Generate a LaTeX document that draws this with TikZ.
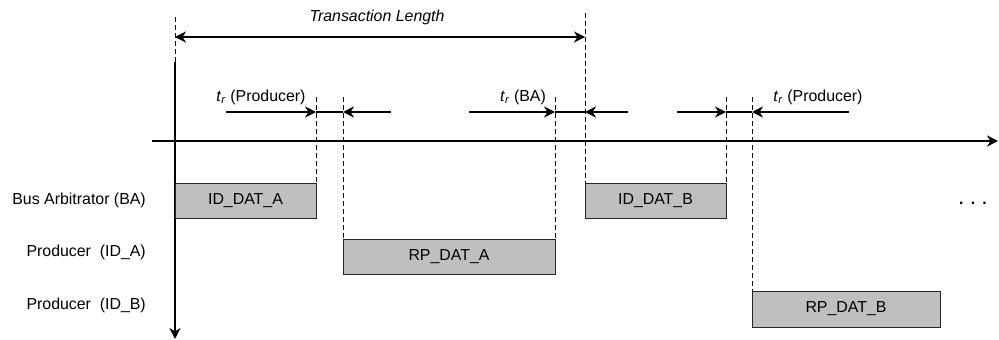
\documentclass[tikz,border=0pt]{standalone}
\usepackage{fontspec}
\setmainfont{Liberation Sans}
\usetikzlibrary{arrows.meta, positioning}

\begin{document}
\begin{tikzpicture}[
  x=1pt, y=-1pt,
  font=\fontsize{15.9}{19}\selectfont,
  >={Stealth[length=11pt, width=11pt, inset=3.5pt]},
  slot/.style={
    draw=black!85, line width=1pt, fill=black!25, inner sep=0pt,
    outer sep=0pt, minimum height=35pt, anchor=north west
  },
  axis/.style={->, line width=2pt},
  guide/.style={line width=0.9pt, dash pattern=on 5pt off 3pt},
  tr/.style={line width=1.6pt},
  span/.style={<->, line width=1.2pt},
  rowlab/.style={anchor=east, inner sep=0pt},
  lab/.style={inner sep=0pt}
]
  \useasboundingbox (0,0) rectangle (999,340);

  % axes
  \coordinate (tstart) at (152,141);
  \coordinate (tend) at (998,141);
  \coordinate (vtop) at (175,62);
  \coordinate (vbot) at (175,339);
  \draw[axis] (tstart) -- (tend);
  \draw[axis] (vtop) -- (vbot);

  % rows
  \node[rowlab] (ba) at (146,200) {Bus Arbitrator (BA)};
  \node[rowlab] (pa) at (146,252) {Producer\ \ (ID\_A)};
  \node[rowlab] (pb) at (146,305) {Producer\ \ (ID\_B)};

  % frames on the bus
  \node[slot, minimum width=141pt] (idA) at (175,183) {ID\_DAT\_A};
  \node[slot, minimum width=212pt] (rpA) at (343,239) {RP\_DAT\_A};
  \node[slot, minimum width=141pt] (idB) at (585,183) {ID\_DAT\_B};
  \node[slot, minimum width=188pt, minimum height=36pt] (rpB) at (752,291) {RP\_DAT\_B};
  \node[lab, anchor=base] (more) at (973,204) {\textbf{.}\hspace{7.2pt}\textbf{.}\hspace{7.2pt}\textbf{.}};

  % guide lines
  \coordinate (g0) at (175,17);
  \coordinate (g1) at (316,97);
  \coordinate (g2) at (343,97);
  \coordinate (g3) at (555,97);
  \coordinate (g4) at (585,13);
  \coordinate (g5) at (726,97);
  \coordinate (g6) at (752,97);
  \draw[guide] (g0) -- (vtop);
  \draw[guide] (g1) -- (idA.north east);
  \draw[guide] (g2) -- (rpA.north west);
  \draw[guide] (g3) -- (rpA.north east);
  \draw[guide] (g4) -- (idB.north west);
  \draw[guide] (g5) -- (idB.north east);
  \draw[guide] (g6) -- (rpB.north west);

  % transaction length
  \coordinate (tl0) at (175,37);
  \coordinate (tl1) at (585,37);
  \draw[span] (tl0) -- (tl1);
  \node[lab, font=\fontsize{15.9}{19}\selectfont\itshape] (tlen) at (377,17) {Transaction Length};

  % turnaround times
  \coordinate (a1) at (226,112);
  \coordinate (b1) at (316,112);
  \coordinate (c1) at (343,112);
  \coordinate (d1) at (391,112);
  \draw[tr, ->] (a1) -- (b1);
  \draw[tr] (b1) -- (c1);
  \draw[tr, ->] (d1) -- (c1);
  \node[lab] (tr1) at (261,97) {\textit{t}\textsubscript{\textit{r}} (Producer)};

  \coordinate (a2) at (469,112);
  \coordinate (b2) at (555,112);
  \coordinate (c2) at (585,112);
  \coordinate (d2) at (628,112);
  \draw[tr, ->] (a2) -- (b2);
  \draw[tr] (b2) -- (c2);
  \draw[tr, ->] (d2) -- (c2);
  \node[lab] (tr2) at (523,97) {\textit{t}\textsubscript{\textit{r}} (BA)};

  \coordinate (a3) at (677,112);
  \coordinate (b3) at (726,112);
  \coordinate (c3) at (752,112);
  \coordinate (d3) at (849,112);
  \draw[tr, ->] (a3) -- (b3);
  \draw[tr] (b3) -- (c3);
  \draw[tr, ->] (d3) -- (c3);
  \node[lab] (tr3) at (818,97) {\textit{t}\textsubscript{\textit{r}} (Producer)};
\end{tikzpicture}
\end{document}
